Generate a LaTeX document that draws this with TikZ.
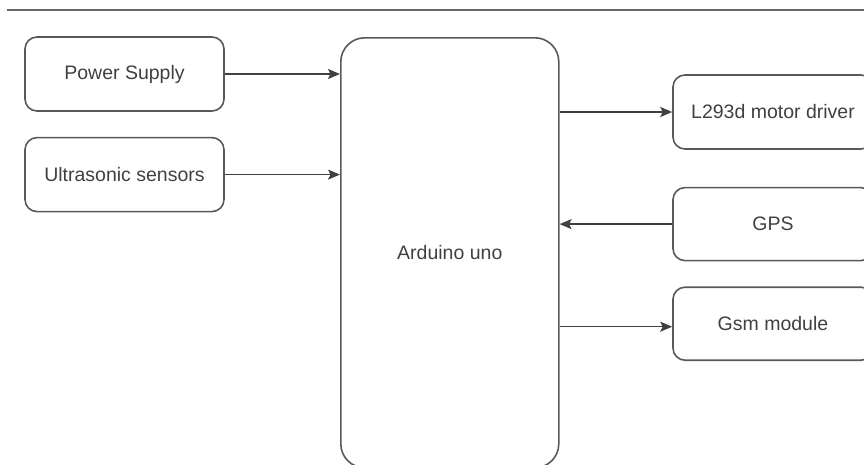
\documentclass[tikz,border=0pt]{standalone}
\usepackage{fontspec}
\setmainfont{Liberation Sans}
\usetikzlibrary{arrows.meta, positioning}

\begin{document}
\begin{tikzpicture}[
    x=1pt, y=-1pt,
    node distance=25pt and 116pt,
    box/.style={rectangle, rounded corners=12pt, draw=black!65, line width=1.6pt, minimum width=199pt, minimum height=74pt, font=\fontsize{19.5}{23}\selectfont, text=black!75, align=center, inner sep=0pt},
    bigbox/.style={box, rounded corners=24pt, minimum width=218pt, minimum height=430pt},
    arrow/.style={-{Stealth[length=12pt, width=10pt, inset=2.5pt]}, line width=1.5pt, draw=black!75}
]

\clip (0,0) rectangle (864,464);

% Top rule
\draw[black!60, line width=1.4pt] (7,10) -- (864,10);

% Inputs
\node[box] (power) at (124.5,74) {Power Supply};
\node[box, below=of power] (sonar) {Ultrasonic sensors};

% Controller
\node[bigbox, anchor=north west] (uno) at (340,37) {Arduino uno};

% Outputs
\node[box, minimum width=200pt] (driver) at (773,112) {L293d motor driver};
\node[box, minimum width=200pt, minimum height=73pt, below=37pt of driver] (gps) {GPS};
\node[box, minimum width=200pt, minimum height=73pt, below=of gps] (gsm) {Gsm module};

% Arrows - inputs
\draw[arrow] (power) -- (power -| uno.west);
\draw[arrow] (sonar) -- (sonar -| uno.west);

% Arrows - outputs
\draw[arrow] (uno.east |- driver) -- (driver);
\draw[arrow] (gps) -- (gps -| uno.east);
\draw[arrow] ([yshift=-3pt]uno.east |- gsm) -- ([yshift=-3pt]gsm.west);

\end{tikzpicture}
\end{document}
